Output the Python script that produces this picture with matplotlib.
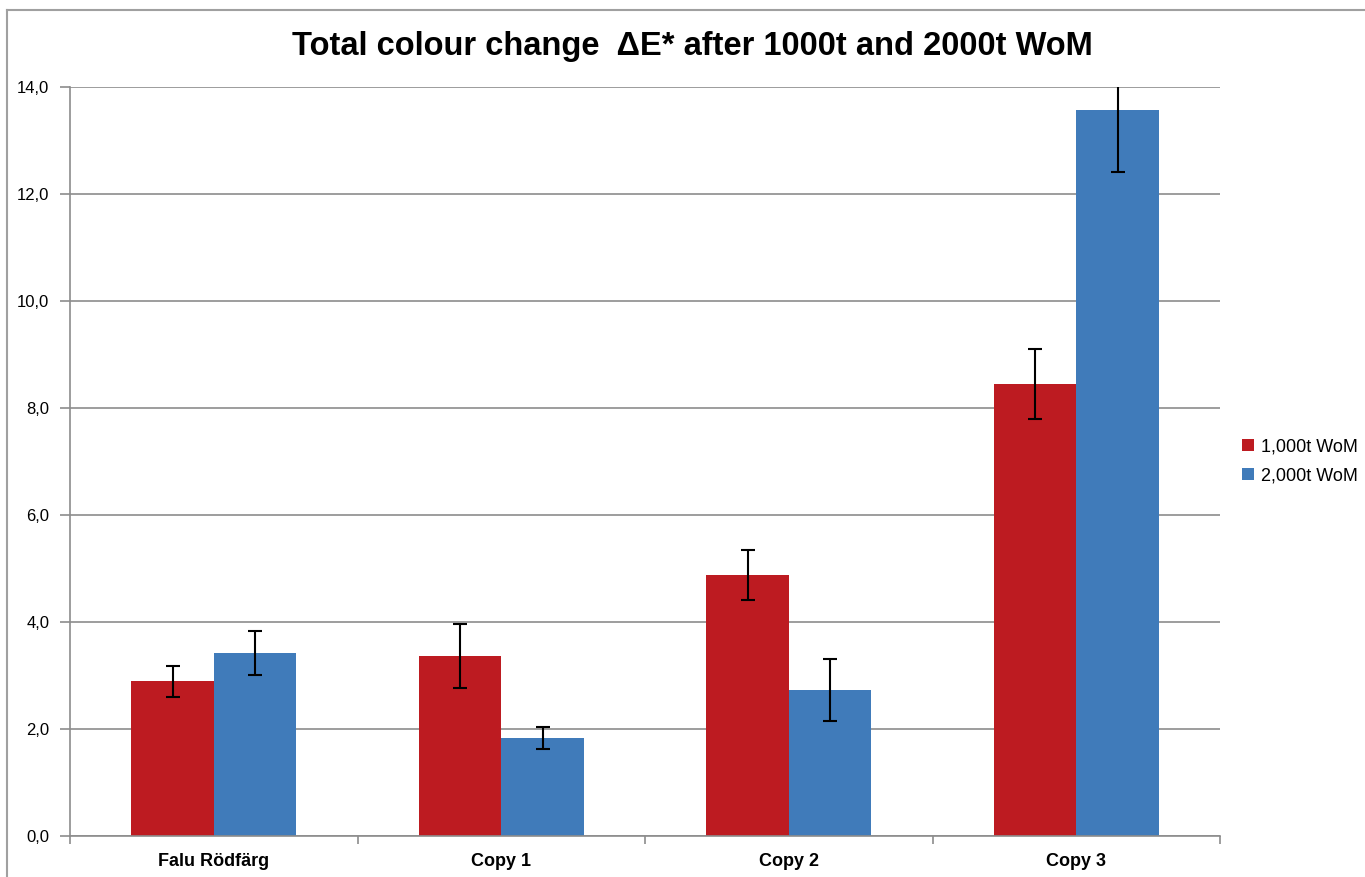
import numpy as np
import matplotlib
matplotlib.use("Agg")
from matplotlib import pyplot as plt
from matplotlib.lines import Line2D

# data
categories = ["Falu Rödfärg", "Copy 1", "Copy 2", "Copy 3"]
series_names = ["1,000t WoM", "2,000t WoM"]
de_1000 = [2.89, 3.37, 4.88, 8.45]
err_1000 = [0.29, 0.60, 0.47, 0.66]
de_2000 = [3.42, 1.83, 2.73, 13.57]
err_2000 = [0.41, 0.21, 0.58, 1.15]
yticks = [0, 2, 4, 6, 8, 10, 12, 14]

plt.rcParams['font.family'] = ['Liberation Sans', 'DejaVu Sans']

fig = plt.figure(figsize=(13.65, 8.77), dpi=100)
ax = fig.add_axes([0.0513, 0.0468, 0.8425, 0.854])

x = np.arange(len(categories))
w = 0.287
red = "#BD1B21"
blue = "#407BBA"
ax.bar(x - w/2, de_1000, w, color=red, label=series_names[0], zorder=2)
ax.bar(x + w/2, de_2000, w, color=blue, label=series_names[1], zorder=2)
ax.errorbar(x - w/2, de_1000, yerr=err_1000, fmt='none', ecolor='black',
            elinewidth=1.5, capsize=5, capthick=1.5, zorder=3)
ax.errorbar(x + w/2, de_2000, yerr=err_2000, fmt='none', ecolor='black',
            elinewidth=1.5, capsize=5, capthick=1.5, zorder=3)

ax.set_xlim(-0.5, 3.5)
ax.set_ylim(0, 14)
ax.set_yticks(yticks)
ax.set_yticklabels([f"{v:.1f}".replace('.', ',') for v in yticks], fontsize=12)
ax.yaxis.grid(True, color='#8c8c8c', linewidth=1.2, zorder=0)
ax.set_axisbelow(True)

ax.set_xticks(x)
ax.set_xticklabels(categories, fontsize=13, fontweight='bold')
ax.tick_params(axis='x', length=0, pad=12)
ax.set_xticks(np.arange(-0.5, 4.0, 1.0), minor=True)
ax.tick_params(axis='x', which='minor', length=6, color='#8c8c8c', width=1.2)
ax.tick_params(axis='y', length=7, color='#8c8c8c', width=1.2, pad=8)

for s in ['top', 'right']:
    ax.spines[s].set_visible(False)
for s in ['left', 'bottom']:
    ax.spines[s].set_color('#8c8c8c')
    ax.spines[s].set_linewidth(1.2)

fig.suptitle("Total colour change  \u0394E* after 1000t and 2000t WoM",
             fontsize=23.5, fontweight='bold', x=0.507, y=0.965)

ax.legend(loc='center left', bbox_to_anchor=(1.005, 0.5), frameon=False,
          fontsize=13, handlelength=0.65, handleheight=0.65, handletextpad=0.4,
          labelspacing=0.7)

# thin frame round the chart
fig.add_artist(Line2D([0.0051, 0.0051], [0.0, 0.989], color='#a0a0a0', lw=1.5))
fig.add_artist(Line2D([0.0051, 1.0], [0.989, 0.989], color='#a0a0a0', lw=1.5))

fig.savefig("out.png", dpi=100)
